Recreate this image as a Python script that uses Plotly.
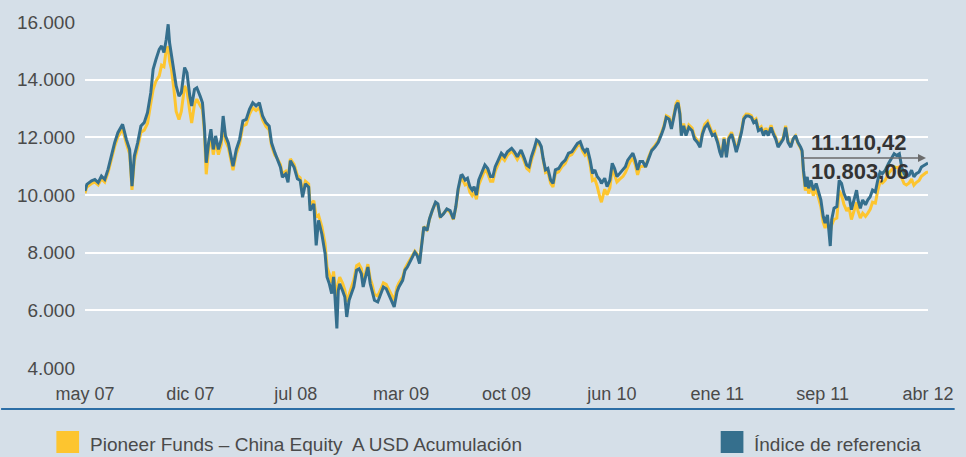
import plotly.graph_objects as go
import pandas as pd

# ---------------- DATA ----------------
# days since 2007-05-02 of each read point (both series share the dates)
dias = [
    0, 4, 14, 21, 28, 35, 42, 49, 56, 63, 70, 77, 80, 88, 95, 100, 105, 112, 119, 126,
    133, 140, 145, 151, 158, 163, 168, 173, 177, 180, 184, 189, 194, 200, 205, 212, 217, 223, 227, 233,
    238, 245, 250, 254, 258, 263, 268, 273, 278, 284, 290, 294, 299, 305, 311, 315, 322, 329, 336, 343,
    350, 357, 364, 371, 378, 385, 392, 397, 404,
    410, 416, 420, 427, 432, 437, 445, 452, 458, 463, 469, 476, 479, 487, 492, 497, 504, 511, 515, 520,
    525, 529, 532, 536, 539, 542, 548, 553, 557, 562, 567, 572, 578, 583, 588, 592, 597, 602, 607, 611,
    616, 623, 630, 635, 641, 646, 653, 658, 664, 668, 676, 681, 686, 691, 697, 702, 707, 712, 716, 721,
    728, 733, 739, 746, 751, 756, 763, 770, 777, 784, 789, 794, 800,
    803, 809, 814, 819, 824, 828, 833, 838, 844, 851, 857, 863, 868, 873, 878, 886, 893, 899, 908, 914,
    920, 928, 935, 940, 945, 950, 956, 961, 966, 971, 975, 980, 985, 991, 996, 1001, 1008, 1015, 1022, 1029,
    1036, 1043, 1048, 1054, 1059, 1064, 1069, 1075, 1080, 1085, 1090, 1096, 1099, 1106, 1111, 1117, 1122, 1127, 1132, 1138,
    1145, 1150, 1155, 1160, 1166, 1171, 1176, 1181, 1187,
    1193, 1199, 1206, 1213, 1220, 1227, 1232, 1237, 1243, 1248, 1253, 1258, 1262, 1266, 1269, 1274, 1279, 1285, 1292, 1297,
    1303, 1309, 1314, 1319, 1325, 1330, 1335, 1340, 1346, 1351, 1355, 1360, 1365, 1370, 1376, 1381, 1386, 1391, 1397, 1402,
    1407, 1412, 1418, 1423, 1428, 1433, 1439, 1444, 1449, 1454, 1460, 1465, 1470, 1475, 1481, 1486, 1491, 1496, 1502, 1507,
    1512, 1517, 1523, 1526, 1529, 1533, 1537, 1540, 1545, 1550, 1556, 1561, 1566, 1571, 1575, 1580, 1586, 1589, 1594, 1600,
    1605,
    1610, 1615, 1621, 1626, 1631, 1636, 1642, 1645, 1650, 1655, 1661, 1666, 1671, 1676, 1682, 1687, 1692, 1697, 1703, 1710,
    1717, 1722, 1727, 1733, 1738, 1743, 1748, 1754, 1759, 1764, 1769, 1775, 1780, 1785, 1790, 1794,
]

indice = [
    10140, 10370, 10490, 10540, 10430, 10660, 10540, 10890, 11350, 11810, 12160, 12390, 12450, 11930, 11580, 10310, 11350, 11810, 12390, 12510,
    12860, 13550, 14360, 14700, 15050, 15170, 14940, 15400, 15920, 15280, 14820, 14360, 13780, 13430, 13550, 14420, 14240, 13430, 13090, 13660,
    13720, 13430, 13200, 12390, 11120, 11810, 12280, 11580, 12050, 11580, 11930, 12740, 12050, 11810, 11240, 11000, 11580, 11930, 12570, 12620,
    12970, 13200, 13090, 13200, 12740, 12510, 12390, 11810, 11470,
    11190, 10960, 10620, 10730, 10440, 11190, 10960, 10560, 10500, 9920, 10390, 10270, 9460, 9690, 8250, 9120, 8650, 7960, 7160, 6920,
    6580, 7160, 6460, 5370, 6690, 6920, 6690, 6460, 5770, 6350, 6580, 6810, 7390, 7440, 7270, 6810, 7160, 7500, 6920, 6690,
    6350, 6290, 6580, 6810, 6750, 6580, 6350, 6120, 6640, 6810, 7040, 7390, 7500, 7670, 7900, 8020, 7900, 7620, 8190, 8890,
    8770, 9170, 9460, 9750, 9690, 9230, 9350, 9520, 9460, 9170, 9580, 10210, 10670,
    10690, 10520, 10580, 10290, 10170, 10290, 10000, 10520, 10750, 11040, 10920, 10640, 10640, 10980, 11160, 11450, 11330, 11500, 11620, 11500,
    11330, 11560, 11270, 11040, 10980, 11330, 11620, 11910, 11850, 11680, 11270, 10870, 10920, 10520, 10400, 10870, 10920, 11100, 11210, 11450,
    11500, 11680, 11790, 11850, 11620, 11500, 11620, 11210, 10750, 10870, 10640, 10520, 10400, 10580, 10290, 10520, 11100, 10920, 10640, 10750,
    10870, 10980, 11210, 11330, 11450, 11210, 10870, 11160, 11160,
    10970, 11260, 11540, 11660, 11830, 12110, 12340, 12690, 12630, 12290, 12690, 13090, 13200, 12800, 12060, 12400, 12060, 12340, 12230, 11940,
    11830, 11660, 12110, 12340, 12460, 12290, 12060, 12110, 11830, 11490, 11310, 11940, 11310, 11940, 12110, 11830, 11490, 11770, 12170, 12630,
    12740, 12740, 12690, 12510, 12570, 12230, 12290, 12060, 12230, 12060, 12340, 12110, 11940, 11660, 11830, 11940, 12340, 11830, 11660, 11940,
    12060, 11830, 11660, 11540, 10860, 10290, 10630, 10230, 10510, 10170, 10400, 10110, 9830, 9260, 9030, 9310, 8230, 9140, 9540, 9600,
    10510,
    10400, 10060, 9830, 9940, 9490, 9830, 10170, 9830, 9540, 9830, 9660, 9830, 9940, 10170, 10110, 10510, 10800, 10740, 10860, 11090,
    11310, 11430, 11370, 11430, 10970, 10740, 10630, 10690, 10860, 10630, 10740, 10800, 10970, 11030, 11090, 11110.42,
]

fondo = [
    10060, 10280, 10400, 10450, 10350, 10560, 10450, 10780, 11230, 11680, 12020, 12230, 12300, 11780, 11430, 10180, 11180, 11640, 12180, 12250,
    12480, 13180, 13660, 13950, 14130, 14500, 14450, 15050, 15150, 14640, 14360, 13700, 12900, 12620, 12900, 13780, 13620, 12900, 12500, 13150,
    13320, 13100, 12970, 12200, 10720, 11580, 12050, 11400, 11850, 11400, 11750, 12540, 11880, 11650, 11100, 10860, 11430, 11780, 12400, 12450,
    12800, 13020, 12930, 13030, 12600, 12380, 12250, 11700, 11380,
    11250, 11050, 10720, 10820, 10550, 11250, 11060, 10680, 10600, 10080, 10480, 10380, 9650, 9800, 9230, 9300, 8900, 8300, 7500, 7250,
    6950, 7350, 6850, 6500, 6950, 7150, 6950, 6700, 6300, 6550, 6800, 7050, 7550, 7600, 7450, 7050, 7300, 7600, 7100, 6900,
    6550, 6500, 6750, 6950, 6900, 6750, 6550, 6350, 6800, 6950, 7150, 7450, 7600, 7750, 7950, 8050, 7950, 7700, 8250, 8900,
    8800, 9150, 9450, 9750, 9650, 9250, 9350, 9500, 9400, 9150, 9550, 10150, 10600,
    10550, 10350, 10400, 10100, 9980, 10100, 9850, 10350, 10600, 10880, 10750, 10480, 10480, 10830, 11020, 11330, 11200, 11380, 11520, 11400,
    11230, 11450, 11150, 10920, 10850, 11200, 11500, 11800, 11780, 11640, 11220, 10780, 10820, 10400, 10280, 10750, 10800, 10980, 11100, 11350,
    11400, 11580, 11700, 11760, 11520, 11380, 11480, 11050, 10500, 10550, 10300, 9900, 9750, 10200, 10000, 10250, 10900, 10700, 10450, 10550,
    10650, 10780, 11000, 11150, 11280, 11050, 10700, 10980, 11000,
    11000, 11300, 11580, 11720, 11880, 12170, 12400, 12750, 12700, 12360, 12760, 13180, 13280, 12880, 12150, 12480, 12150, 12430, 12320, 12030,
    11900, 11730, 12200, 12450, 12560, 12380, 12150, 12200, 11900, 11560, 11380, 12000, 11380, 12000, 12180, 11900, 11560, 11840, 12240, 12700,
    12810, 12800, 12750, 12580, 12640, 12300, 12370, 12130, 12320, 12140, 12420, 12180, 12000, 11700, 11880, 12000, 12400, 11880, 11700, 11960,
    12050, 11800, 11620, 11480, 10750, 10150, 10480, 10050, 10330, 9980, 10200, 9900, 9600, 9050, 8850, 9100, 8700, 8950, 9150, 9200,
    10150,
    10000, 9680, 9450, 9560, 9150, 9400, 9750, 9450, 9200, 9370, 9260, 9370, 9500, 9750, 9720, 10150, 10450, 10420, 10520, 10750,
    10900, 10980, 10950, 10970, 10600, 10400, 10350, 10420, 10550, 10340, 10430, 10500, 10650, 10720, 10780, 10803.06,
]

etiquetas_x = ["may 07", "dic 07", "jul 08", "mar 09", "oct 09", "jun 10", "ene 11", "sep 11", "abr 12"]
valores_y = [4000, 6000, 8000, 10000, 12000, 14000, 16000]
nombre_fondo = "Pioneer Funds – China Equity  A USD Acumulación"
nombre_indice = "Índice de referencia"
texto_indice = "11.110,42"
texto_fondo = "10.803,06"

# ---------------- STYLE ----------------
W, H = 966, 457
L, R, T, B = 85, 939, 22, 368       # plot area in pixels
BG = "#d5dfe8"
AMARILLO = "#fdc52f"
AZUL = "#356f8d"
GRIS = "#4a4a4a"
REG = "Liberation Sans, Arial, sans-serif"

def px(x):
    return (x - L) / (R - L)

def py(y):
    return (B - y) / (B - T)

inicio = pd.Timestamp("2007-05-02")
fechas = inicio + pd.to_timedelta(dias, unit="D")
paso = dias[-1] / (len(etiquetas_x) - 1)
ticks_x = [inicio + pd.Timedelta(days=k * paso) for k in range(len(etiquetas_x))]

fig = go.Figure()
fig.add_trace(go.Scatter(x=fechas, y=fondo, mode="lines", name=nombre_fondo,
                         line=dict(color=AMARILLO, width=3), showlegend=False))
fig.add_trace(go.Scatter(x=fechas, y=indice, mode="lines", name=nombre_indice,
                         line=dict(color=AZUL, width=3), showlegend=False))

fig.update_layout(
    width=W, height=H,
    margin=dict(l=L, r=W - R, t=T, b=H - B, pad=0),
    paper_bgcolor=BG, plot_bgcolor=BG,
    separators=",.",
    xaxis=dict(range=[fechas[0], fechas[-1]], tickmode="array", tickvals=ticks_x,
               ticktext=etiquetas_x, showgrid=False, zeroline=False, showline=False,
               ticks="", ticklabelstandoff=13, ticklabeloverflow="allow",
               tickfont=dict(family=REG, size=18, color=GRIS)),
    yaxis=dict(range=[4000, 16000], tickmode="array", tickvals=valores_y,
               tickformat=",d", showgrid=True, gridcolor="white", gridwidth=2,
               zeroline=False, showline=False, ticks="", ticklabelstandoff=9,
               tickfont=dict(family=REG, size=19, color=GRIS)),
)

shapes = [
    # bottom separator line
    dict(type="line", xref="paper", yref="paper", x0=px(0), x1=px(W), y0=py(409), y1=py(409),
         line=dict(color="#2c6ea6", width=2)),
    # legend squares
    dict(type="rect", xref="paper", yref="paper", x0=px(56), x1=px(79), y0=py(453), y1=py(431),
         fillcolor=AMARILLO, line=dict(width=0)),
    dict(type="rect", xref="paper", yref="paper", x0=px(729), x1=px(752), y0=py(453), y1=py(431),
         fillcolor=AZUL, line=dict(width=0)),
]
fig.update_layout(shapes=shapes)

annotations = [
    dict(xref="paper", yref="paper", x=px(88), y=py(444), text=nombre_fondo, showarrow=False,
         xanchor="left", yanchor="middle", font=dict(family=REG, size=19, color=GRIS)),
    dict(xref="paper", yref="paper", x=px(761), y=py(444), text=nombre_indice, showarrow=False,
         xanchor="left", yanchor="middle", font=dict(family=REG, size=19, color=GRIS)),
    dict(xref="paper", yref="paper", x=px(818), y=py(142), text="<b>" + texto_indice + "</b>",
         showarrow=False, xanchor="left", yanchor="middle",
         font=dict(family=REG, size=22, color="#333333")),
    dict(xref="paper", yref="paper", x=px(818), y=py(171), text="<b>" + texto_fondo + "</b>",
         showarrow=False, xanchor="left", yanchor="middle",
         font=dict(family=REG, size=22, color="#333333")),
    dict(xref="paper", yref="paper", x=px(937), y=py(158), text="", showarrow=True,
         ax=812 - 937, ay=0, axref="pixel", ayref="pixel",
         arrowhead=2, arrowsize=1, arrowwidth=1.6, arrowcolor="#6b6b6b"),
]
fig.update_layout(annotations=annotations)

fig.write_html("out.html", config={"displayModeBar": False},
               post_script="document.body.style.margin='0';document.body.style.background='" + BG + "';")
